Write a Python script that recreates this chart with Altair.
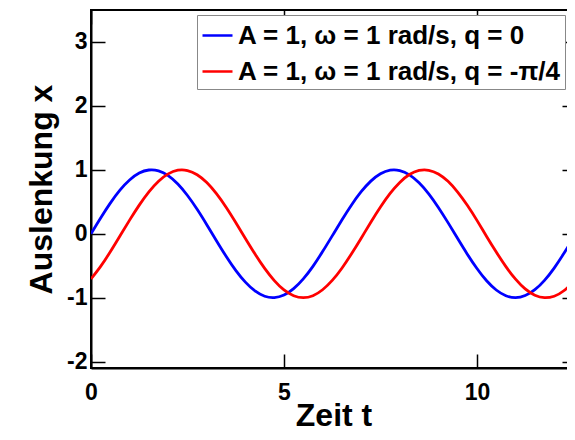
import altair as alt
import pandas as pd

# time samples (s)
t_vals = [0.0, 0.25, 0.5, 0.75, 1.0, 1.25, 1.5, 1.75, 2.0, 2.25, 2.5, 2.75, 3.0, 3.25, 3.5, 3.75,
          4.0, 4.25, 4.5, 4.75, 5.0, 5.25, 5.5, 5.75, 6.0, 6.25, 6.5, 6.75, 7.0, 7.25, 7.5, 7.75,
          8.0, 8.25, 8.5, 8.75, 9.0, 9.25, 9.5, 9.75, 10.0, 10.25, 10.5, 10.75, 11.0, 11.25, 11.5,
          11.75, 12.0, 12.25, 12.5, 12.566]

# blue curve (phase 0)
x_blue = [0.00, 0.247, 0.479, 0.682, 0.841, 0.949, 0.997, 0.984, 0.909, 0.778, 0.598, 0.382, 0.141,
          -0.108, -0.351, -0.572, -0.757, -0.895, -0.978, -0.999, -0.959, -0.859, -0.706, -0.510,
          -0.279, -0.033, 0.215, 0.450, 0.657, 0.823, 0.938, 0.995, 0.989, 0.922, 0.798, 0.624,
          0.412, 0.174, -0.075, -0.319, -0.544, -0.736, -0.880, -0.970, -1.000, -0.967, -0.875,
          -0.729, -0.537, -0.310, -0.066, 0.00]

# red curve (phase -pi/4)
x_red = [-0.707, -0.511, -0.282, -0.035, 0.213, 0.448, 0.655, 0.822, 0.937, 0.994, 0.989, 0.923,
         0.800, 0.626, 0.414, 0.175, -0.073, -0.317, -0.542, -0.733, -0.879, -0.969, -1.000, -0.969,
         -0.876, -0.730, -0.539, -0.313, -0.069, 0.180, 0.418, 0.631, 0.803, 0.926, 0.990, 0.993,
         0.935, 0.820, 0.652, 0.445, 0.209, -0.042, -0.286, -0.514, -0.710, -0.863, -0.961, -1.000,
         -0.977, -0.892, -0.752, -0.707]

labels = ["A = 1, ω = 1 rad/s, q = 0", "A = 1, ω = 1 rad/s, q = -π/4"]
colors = ["#0000FF", "#FF0000"]

x_ticks = [0, 5, 10]
y_ticks = [-2, -1, 0, 1, 2, 3]

rows = []
for i, t in enumerate(t_vals):
    rows.append({"t": t, "x": x_blue[i], "s": labels[0], "i": i})
    rows.append({"t": t, "x": x_red[i], "s": labels[1], "i": i})
df = pd.DataFrame(rows)

W, H = 485, 358
FONT = "Liberation Sans"
HYPHEN = "replace(datum.label, '\u2212', '-')"

xs = alt.Scale(domain=[0, 12.566], nice=False, zero=False)
ys = alt.Scale(domain=[-2.1, 3.5], nice=False, zero=False)

lines = alt.Chart(df).mark_line(strokeWidth=2.8, clip=True, interpolate="natural").encode(
    x=alt.X("t:Q", scale=xs, axis=alt.Axis(
        orient="bottom", values=x_ticks, ticks=False, tickSize=0, title="Zeit t",
        labelPadding=13, labelFlush=False, labelFontSize=23, labelExpr=HYPHEN,
        titleFontSize=32, titleBaseline="alphabetic", titleY=57)),
    y=alt.Y("x:Q", scale=ys, axis=alt.Axis(
        orient="left", values=y_ticks, ticks=False, tickSize=0, title="Auslenkung x",
        labelPadding=4, labelFlush=False, titlePadding=8, labelFontSize=23, titleFontSize=32,
        labelExpr=HYPHEN)),
    color=alt.Color("s:N", scale=alt.Scale(domain=labels, range=colors), legend=alt.Legend(
        title=None, orient="none", legendX=106, legendY=5, symbolType="stroke",
        symbolSize=900, symbolStrokeWidth=2.5, labelOffset=4, padding=4, rowPadding=6,
        labelFontSize=26, labelFont=FONT, labelFontWeight="bold", labelColor="black",
        strokeColor="#888888", fillColor="white", labelLimit=600)),
    order="i:Q",
)

tick_axis = dict(labels=False, domain=False, title=None, ticks=True, tickSize=14,
                 tickWidth=1.5, tickColor="black", grid=False)

ticks_a = alt.Chart(df).mark_line(strokeOpacity=0).encode(
    x=alt.X("t:Q", scale=xs, axis=alt.Axis(orient="top", offset=-H, values=x_ticks, **tick_axis)),
    y=alt.Y("x:Q", scale=ys, axis=alt.Axis(orient="right", offset=-W, values=y_ticks, **tick_axis)),
)
ticks_b = alt.Chart(df).mark_line(strokeOpacity=0).encode(
    x=alt.X("t:Q", scale=xs, axis=alt.Axis(orient="bottom", offset=-H, values=x_ticks, **tick_axis)),
    y=alt.Y("x:Q", scale=ys, axis=alt.Axis(orient="left", offset=-W, values=y_ticks, **tick_axis)),
)

chart = alt.layer(lines, ticks_a, ticks_b).resolve_axis(
    x="independent", y="independent"
).properties(
    width=W, height=H,
    autosize=alt.AutoSizeParams(type="none"),
    padding={"left": 83, "top": 2, "right": -9, "bottom": 64},
    background="white",
).configure_view(
    stroke="black", strokeWidth=2
).configure_axis(
    grid=False, domainColor="black", domainWidth=2, labelColor="black", titleColor="black",
    labelFont=FONT, titleFont=FONT, labelFontWeight="bold", titleFontWeight="bold",
)

chart.save("out.html", embed_options={"renderer": "svg", "actions": False})
